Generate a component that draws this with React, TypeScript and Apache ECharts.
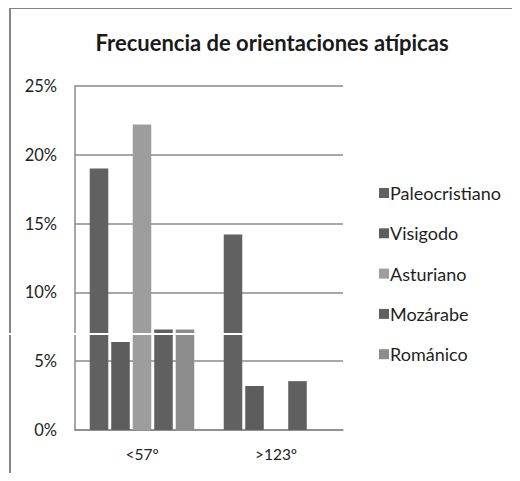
import React, { useEffect, useRef } from "react";
import * as echarts from "echarts";

const categories = ["<57º", ">123º"];
const seriesNames = ["Paleocristiano", "Visigodo", "Asturiano", "Mozárabe", "Románico"];
const paleocristiano = [19.0, 14.2];
const visigodo = [6.4, 3.2];
const asturiano = [22.2, 0];
const mozarabe = [7.3, 3.55];
const romanico = [7.3, 0];
const yTicks = [0, 5, 10, 15, 20, 25];
const colors = ["#616161", "#5d5d5d", "#9d9d9d", "#606060", "#8c8c8c"];

export default function App() {
  const ref = useRef<HTMLDivElement>(null);
  useEffect(() => {
    if (!ref.current) return;
    const chart = echarts.init(ref.current, null, { renderer: "svg" });
    const values = [paleocristiano, visigodo, asturiano, mozarabe, romanico];
    const font = "Lato, 'Open Sans', sans-serif";
    chart.setOption({
      animation: false,
      backgroundColor: "#ffffff",
      title: {
        text: "Frecuencia de orientaciones atípicas",
        left: 267,
        top: 26,
        textAlign: "center",
        textStyle: { fontFamily: font, fontSize: 22, fontWeight: "bold", color: "#1a1a1a" },
      },
      graphic: [
        {
          type: "rect",
          shape: { x: 10, y: 8, width: 503, height: 500 },
          style: { fill: "none", stroke: "#858585", lineWidth: 2 },
          z: 100,
          silent: true,
        },
        {
          type: "line",
          shape: { x1: 0, y1: 334, x2: 243, y2: 334 },
          style: { stroke: "#ffffff", lineWidth: 2 },
          z: 101,
          silent: true,
        },
      ],
      legend: {
        orient: "vertical",
        left: 374,
        top: 179,
        itemWidth: 10,
        itemHeight: 10,
        itemGap: 22.3,
        icon: "rect",
        textStyle: { fontFamily: font, fontSize: 18, color: "#1f1f1f", padding: [0, 0, 0, -4] },
        data: seriesNames,
      },
      grid: { left: 75, right: 177, top: 86, bottom: 51, containLabel: false },
      xAxis: {
        type: "category",
        data: categories,
        axisLine: { lineStyle: { color: "#8a8a8a", width: 1.5 } },
        axisTick: { show: false },
        axisLabel: { margin: 16, fontFamily: font, fontSize: 15.5, color: "#222" },
      },
      yAxis: {
        type: "value",
        min: yTicks[0],
        max: yTicks[yTicks.length - 1],
        interval: 5,
        axisLine: { show: true, lineStyle: { color: "#8a8a8a", width: 1.5 } },
        axisTick: { show: false },
        splitLine: { lineStyle: { color: "#8a8a8a", width: 1.5 } },
        axisLabel: { margin: 18, fontFamily: font, fontSize: 16.5, color: "#222", formatter: "{value}%" },
      },
      series: seriesNames.map((name, i) => ({
        name,
        type: "bar",
        data: values[i],
        barGap: "16%",
        barCategoryGap: "22%",
        itemStyle: { color: colors[i] },
      })),
    });
    return () => chart.dispose();
  }, []);
  return <div ref={ref} style={{ width: 520, height: 481, margin: -8 }} />;
}
